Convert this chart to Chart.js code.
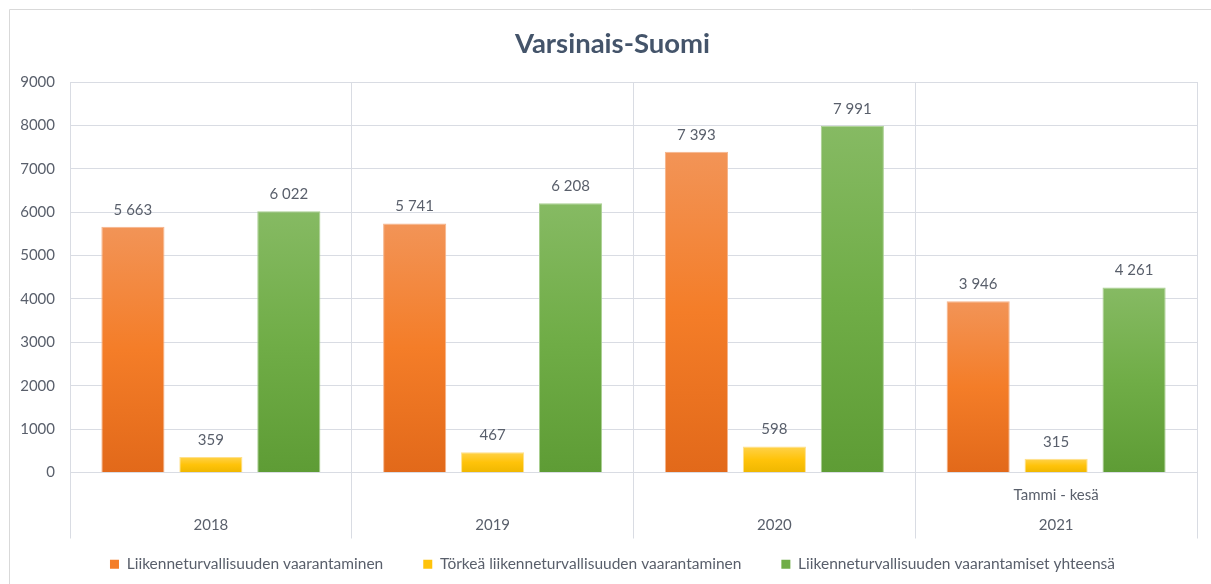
<!DOCTYPE html>
<html>
<head>
<meta charset="utf-8">
<script src="https://cdn.jsdelivr.net/npm/chart.js@4"></script>
<style>
  html, body { margin: 0; padding: 0; background: #fff; }
  #wrap { position: absolute; left: 0; top: 0; width: 1211px; height: 584px; }
</style>
</head>
<body>
<div id="wrap"><canvas id="c" width="1211" height="584"></canvas></div>
<script>
const categories = ['2018', '2019', '2020', ['Tammi - kesä', '2021']];
const seriesNames = [
  'Liikenneturvallisuuden vaarantaminen',
  'Törkeä liikenneturvallisuuden vaarantaminen',
  'Liikenneturvallisuuden vaarantamiset yhteensä'
];
const vaarantaminen = [5663, 5741, 7393, 3946];
const torkea = [359, 467, 598, 315];
const yhteensa = [6022, 6208, 7991, 4261];
const yTicks = [0, 1000, 2000, 3000, 4000, 5000, 6000, 7000, 8000, 9000];

const FONT = 'Lato';
const TEXT = '#595f6b';
const GRID = '#d9dce3';

const gradStops = [
  ['#f29457', '#f47d28', '#e2691a'],
  ['#ffd24a', '#ffc30a', '#efb700'],
  ['#86ba63', '#70ad47', '#5e9c35']
];
const borderCols = ['#f6b48a', '#ffe08a', '#a9cf90'];

function barGradient(i) {
  return function(ctx) {
    const chart = ctx.chart;
    const ys = chart.scales.y;
    if (!ys || !chart.chartArea || ctx.dataIndex === undefined) return gradStops[i][1];
    const top = ys.getPixelForValue(ctx.raw);
    const bot = ys.getPixelForValue(0);
    if (!isFinite(top) || !isFinite(bot) || top === bot) return gradStops[i][1];
    const g = chart.ctx.createLinearGradient(0, top, 0, bot);
    g.addColorStop(0, gradStops[i][0]);
    g.addColorStop(0.5, gradStops[i][1]);
    g.addColorStop(1, gradStops[i][2]);
    return g;
  };
}

function fmt(v) {
  return String(v).replace(/\B(?=(\d{3})+(?!\d))/g, ' ');
}

const frame = {
  id: 'frame',
  beforeDraw(chart) {
    const c = chart.ctx;
    c.save();
    c.strokeStyle = '#d9d9d9';
    c.lineWidth = 1;
    c.beginPath();
    c.moveTo(9.5, 600); c.lineTo(9.5, 9.5); c.lineTo(1220, 9.5);
    c.stroke();
    c.restore();
  }
};

const valueLabels = {
  id: 'valueLabels',
  afterDatasetsDraw(chart) {
    const c = chart.ctx;
    c.save();
    c.font = '15px "' + FONT + '"';
    c.fillStyle = TEXT;
    c.textAlign = 'center';
    c.textBaseline = 'middle';
    chart.data.datasets.forEach((ds, di) => {
      const meta = chart.getDatasetMeta(di);
      meta.data.forEach((el, i) => {
        c.fillText(fmt(ds.data[i]), el.x, el.y - 17);
      });
    });
    c.restore();
  }
};

const datasets = [vaarantaminen, torkea, yhteensa].map((d, i) => ({
  label: seriesNames[i],
  data: d,
  backgroundColor: barGradient(i),
  borderColor: borderCols[i],
  borderWidth: 1,
  categoryPercentage: 0.83,
  barPercentage: 0.81
}));

const noClip = () => undefined;

new Chart(document.getElementById('c'), {
  type: 'bar',
  data: { labels: categories, datasets },
  plugins: [frame, valueLabels],
  options: {
    responsive: false,
    animation: false,
    layout: { padding: { left: 28, right: 14, top: 0, bottom: 2 } },
    plugins: {
      title: {
        display: true,
        text: 'Varsinais-Suomi',
        color: '#44546a',
        font: { family: FONT, size: 27.5, weight: 'bold', lineHeight: 1.2 },
        padding: { top: 27.5, bottom: 21.5 }
      },
      legend: {
        position: 'bottom',
        labels: {
          boxWidth: 9,
          boxHeight: 9,
          padding: 40,
          color: TEXT,
          font: { family: FONT, size: 15.5 },
          generateLabels(chart) {
            return chart.data.datasets.map((ds, i) => ({
              text: ds.label,
              fillStyle: gradStops[i][1],
              strokeStyle: gradStops[i][1],
              lineWidth: 0,
              datasetIndex: i,
              fontColor: TEXT
            }));
          }
        }
      },
      tooltip: { enabled: false }
    },
    scales: {
      x: {
        grid: { offset: true, color: GRID, tickColor: GRID, tickLength: 66, drawTicks: true },
        border: { display: false },
        ticks: { color: TEXT, font: { family: FONT, size: 15, lineHeight: 2.0 }, padding: -43, crossAlign: 'far', maxRotation: 0 },
        afterFit(s) { s.height = 44; s._computeLabelArea = noClip; }
      },
      y: {
        min: 0, max: 9000,
        afterBuildTicks(s) { s.ticks = yTicks.map(v => ({ value: v })); },
        grid: { color: GRID, drawTicks: false },
        border: { display: false },
        ticks: { color: TEXT, font: { family: FONT, size: 15 }, padding: 15, callback: v => String(v) },
        afterFit(s) { s.width = 42; s._computeLabelArea = noClip; }
      }
    }
  }
});
</script>
</body>
</html>
